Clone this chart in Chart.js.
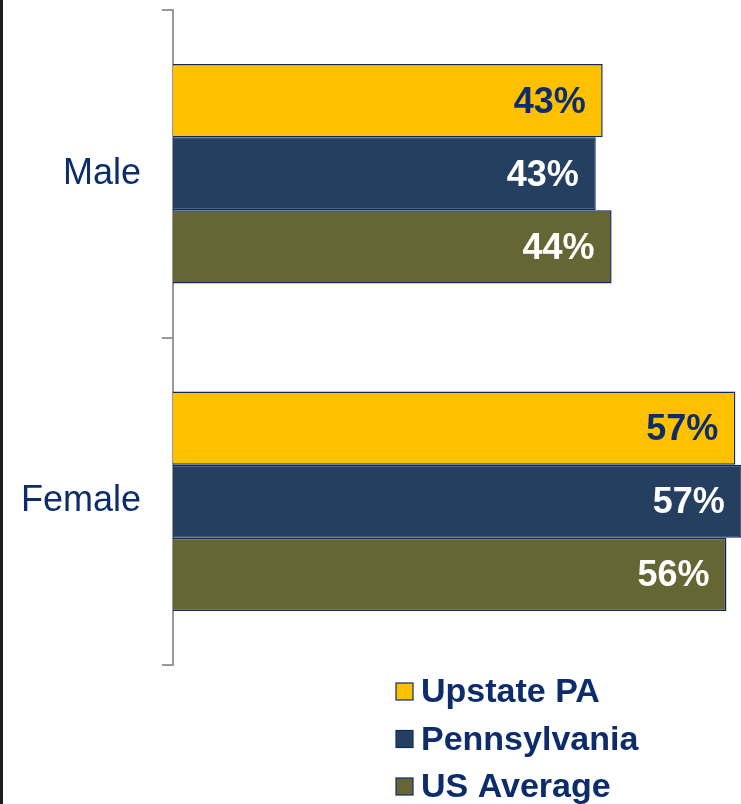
<!DOCTYPE html>
<html>
<head>
<meta charset="utf-8">
<script src="https://cdn.jsdelivr.net/npm/chart.js@4.4.1/dist/chart.umd.min.js"></script>
<style>
  body { margin: 0; background: #fff; }
  #wrap { position: relative; width: 741px; height: 804px; }
  #edge { position: absolute; left: 0; top: 0; width: 3px; height: 804px; background: #1e1e1e; }
</style>
</head>
<body>
<div id="wrap">
  <canvas id="myChart" width="741" height="804"></canvas>
  <div id="edge"></div>
</div>
<script>
const categories = ['Male', 'Female'];
const upstatePA = [43.4, 56.8];
const pennsylvania = [42.7, 57.45];
const usAverage = [44.3, 55.9];

const navy = '#0c2c6b';

const ctx = document.getElementById('myChart');

// value labels drawn inside the end of each bar
const barLabels = {
  id: 'barLabels',
  afterDatasetsDraw(chart) {
    const c = chart.ctx;
    c.save();
    c.font = 'bold 36px "Liberation Sans", Arial, sans-serif';
    c.textAlign = 'right';
    c.textBaseline = 'middle';
    chart.data.datasets.forEach((ds, i) => {
      chart.getDatasetMeta(i).data.forEach((bar, j) => {
        c.fillStyle = i === 0 ? navy : '#ffffff';
        c.fillText(Math.round(ds.data[j]) + '%', bar.x - 17, bar.y + 2);
      });
    });
    c.restore();
  }
};

// stacked legend below the plot
const stackLegend = {
  id: 'stackLegend',
  afterDraw(chart) {
    const c = chart.ctx;
    c.save();
    c.font = 'bold 34px "Liberation Sans", Arial, sans-serif';
    c.textBaseline = 'middle';
    chart.data.datasets.forEach((ds, i) => {
      const y = 692 + i * 47.5;
      c.fillStyle = ds.backgroundColor;
      c.fillRect(396, y - 9, 17, 17);
      c.strokeStyle = navy;
      c.lineWidth = 1.2;
      c.strokeRect(396, y - 9, 17, 17);
      c.fillStyle = navy;
      c.fillText(ds.label, 421, y + 1);
    });
    c.restore();
  }
};

const data = {
  labels: categories,
  datasets: [
    { label: 'Upstate PA', data: upstatePA, backgroundColor: '#ffc000' },
    { label: 'Pennsylvania', data: pennsylvania, backgroundColor: '#253f60' },
    { label: 'US Average', data: usAverage, backgroundColor: '#666634' }
  ]
};

data.datasets.forEach(ds => {
  ds.borderColor = '#0e2a5e';
  ds.borderWidth = 1.5;
  ds.borderSkipped = 'start';
  ds.barPercentage = 1;
  ds.categoryPercentage = 0.67;
});

const config = {
  type: 'bar',
  data: data,
  options: {
    indexAxis: 'y',
    responsive: false,
    animation: false,
    layout: { padding: { top: 10, bottom: 139, left: 0, right: 0 } },
    plugins: {
      legend: { display: false },
      tooltip: { enabled: false }
    },
    scales: {
      x: { display: false, min: 0, max: 57.37 },
      y: {
        afterFit(scale) {
          scale.width = 173;
          scale.paddingTop = 0;
          scale.paddingBottom = 0;
        },
        border: { display: true, color: '#999999', width: 2 },
        grid: { drawOnChartArea: false, drawTicks: true, tickLength: 11, color: '#999999', lineWidth: 2 },
        ticks: {
          color: navy,
          padding: 21,
          font: { size: 36, family: '"Liberation Sans", Arial, sans-serif' }
        }
      }
    }
  },
  plugins: [barLabels, stackLegend]
};

let chart = new Chart(ctx, config);
</script>
</body>
</html>
